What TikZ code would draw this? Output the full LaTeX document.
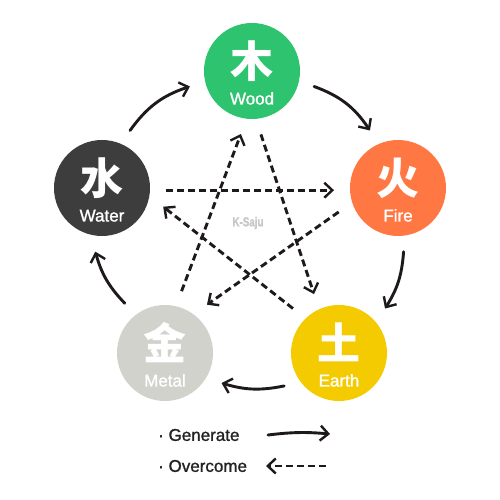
\documentclass[tikz,border=0pt]{standalone}
\usepackage{fontspec}
\setmainfont{Liberation Sans}
\newfontfamily\cjk{Noto Sans CJK SC}
\newfontfamily\lblfont{Liberation Sans}[FakeBold=1.2]
\newfontfamily\markfont{Liberation Sans}[FakeBold=1.5]
\usetikzlibrary{arrows.meta}
\definecolor{woodc}{HTML}{2EC46F}
\definecolor{firec}{HTML}{FF7843}
\definecolor{waterc}{HTML}{3D3D3D}
\definecolor{metalc}{HTML}{D1D2CC}
\definecolor{earthc}{HTML}{F4CB00}
\definecolor{inkc}{HTML}{1E1A1A}
\definecolor{markc}{HTML}{C8C8C8}
\definecolor{legc}{HTML}{222222}
\begin{document}
\begin{tikzpicture}[x=1pt,y=1pt,
  elem/.style={circle, minimum size=96pt, inner sep=0pt, outer sep=16pt},
  chr/.style={anchor=base, text=white, inner sep=0pt, font=\cjk\bfseries\fontsize{43}{43}\selectfont},
  lbl/.style={anchor=base, text=white, inner sep=0pt, font=\lblfont\fontsize{17}{17}\selectfont},
  gen/.style={draw=inkc, line width=2.9pt, line cap=round,
    -{Straight Barb[length=8pt,width=15pt,line width=2.4pt]}},
  over/.style={draw=inkc, line width=2.9pt, dash pattern=on 7pt off 4pt,
    -{Straight Barb[length=8pt,width=15pt,line width=2.4pt]}},
  legtext/.style={anchor=west, inner sep=0pt, text=legc, font=\lblfont\fontsize{17}{17}\selectfont}
]
\useasboundingbox (0,0) rectangle (500,500);
\fill[white] (0,0) rectangle (500,500);

% elements
\node[elem, fill=woodc]  (wood)  at (252,429) {};
\node[elem, fill=firec]  (fire)  at (398,312) {};
\node[elem, fill=earthc] (earth) at (339,147) {};
\node[elem, fill=metalc] (metal) at (165,147) {};
\node[elem, fill=waterc] (water) at (102,312) {};

\foreach \n/\c/\t in {wood/木/Wood, fire/火/Fire, earth/土/Earth, metal/金/Metal, water/水/Water}{
  \node[chr] (\n-ch) at ([yshift=-7pt]\n.center) {\c};
  \node[lbl] (\n-lb) at ([yshift=-33.5pt]\n.center) {\t};
}

% watermark
\node[inner sep=0pt, text=markc, font=\markfont\bfseries\fontsize{13}{13}\selectfont, xscale=0.75] (mark) at (248,277) {K-Saju};

% generating cycle
\draw[gen] (water.64) to[bend left=18] (wood.194);
\draw[gen] (wood.346) to[bend left=18] (fire.116);
\draw[gen] (fire.275) to[bend left=14] (earth.44);
\draw[gen] (earth.211) to[bend left=14] (metal.332);
\draw[gen] (metal.129) to[bend left=14] (water.264);

% overcoming cycle
\draw[over] (water.358) -- (fire.182);
\draw[over] (fire.202) -- (metal.49);
\draw[over] (metal.75) -- (wood.260);
\draw[over] (wood.278) -- (earth.113);
\draw[over] (earth.136) -- (water.343);

% legend
\node[legtext] (lgen) at (158,65) {· Generate};
\node[legtext] (lov) at (158,34) {· Overcome};
\coordinate (g1) at (268,65);
\coordinate (g2) at (330,66);
\coordinate (o1) at (326,34);
\coordinate (o2) at (266,34);
\draw[gen] (g1) to[bend left=6] (g2);
\draw[over] (o1) -- (o2);
\end{tikzpicture}
\end{document}
